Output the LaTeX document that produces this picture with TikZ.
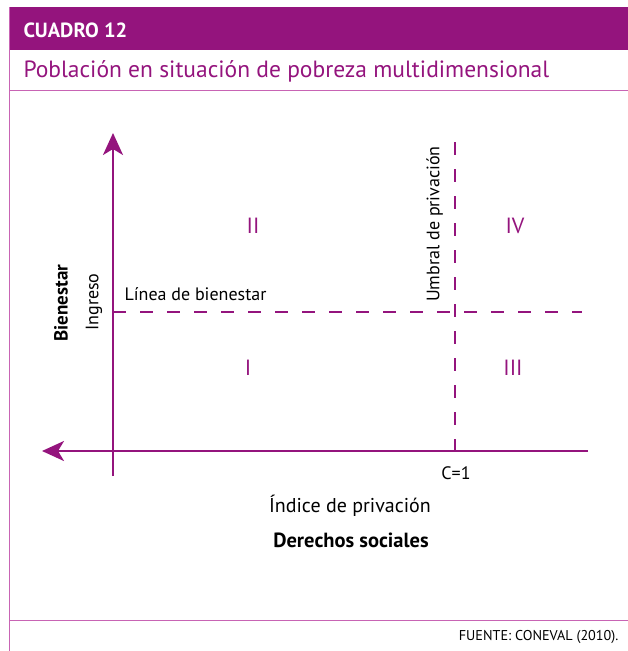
\documentclass[tikz,border=0pt]{standalone}
\usepackage{fontspec}
\setmainfont{PT Sans}
\usetikzlibrary{arrows.meta}
\definecolor{cuadro}{RGB}{148,20,125}
\definecolor{marco}{RGB}{200,100,180}
\begin{document}
\begin{tikzpicture}[x=1pt,y=-1pt,
	eje/.style={draw=cuadro,line width=2.4pt,-{Stealth[length=22pt,width=20pt,inset=6pt]}},
	umbral/.style={draw=cuadro,line width=2.8pt,dash pattern=on 13pt off 14pt},
	cuadrante/.style={text=cuadro,font=\fontsize{22}{24}\selectfont},
	etiqueta/.style={font=\fontsize{18}{20}\selectfont},
	]
	\useasboundingbox (0,0) rectangle (628,651);
	% marco
	\fill[cuadro] (9,7) rectangle (628,50);
	\draw[marco,line width=1pt] (9.5,7) -- (9.5,651);
	\draw[marco,line width=1pt] (9,90) -- (628,90);
	\draw[marco,line width=1pt] (9,620) -- (628,620);
	\node[anchor=west,text=white,font=\bfseries\fontsize{20.5}{22}\selectfont] (titulo) at (20,30) {CUADRO 12};
	\node[anchor=west,text=cuadro,font=\fontsize{23.5}{25}\selectfont] (subtitulo) at (20,71) {Población en situación de pobreza multidimensional};
	\node[anchor=east,font=\fontsize{14.2}{16}\selectfont] (fuente) at (622,637) {FUENTE: CONEVAL (2010).};
	% ejes
	\coordinate (o) at (113,451);
	\coordinate (arriba) at (113,133);
	\coordinate (abajo) at (113,476);
	\coordinate (izq) at (42,451);
	\coordinate (der) at (588,451);
	\draw[eje] (abajo) -- (arriba);
	\draw[eje] (der) -- (izq);
	% umbrales
	\coordinate (lb0) at (113,312);
	\coordinate (lb1) at (582,312);
	\coordinate (up0) at (455,142);
	\coordinate (up1) at (455,451);
	\draw[umbral] (lb0) -- (lb1);
	\draw[umbral] (up0) -- (up1);
	% cuadrantes
	\node[cuadrante] (cII) at (253,226) {II};
	\node[cuadrante] (cIV) at (515,226) {IV};
	\node[cuadrante] (cI) at (248,368) {I};
	\node[cuadrante] (cIII) at (513,368) {III};
	% textos
	\node[etiqueta,anchor=south west] (linea) at (121,304) {Línea de bienestar};
	\node[etiqueta,rotate=90] (ingreso) at (94,302) {Ingreso};
	\node[etiqueta,rotate=90,font=\bfseries\fontsize{19}{21}\selectfont] (bienestar) at (61,303) {Bienestar};
	\node[etiqueta,rotate=90,anchor=north] (umbraltxt) at (423,224) {Umbral de privación};
	\node[etiqueta] (c1) at (456,473) {C=1};
	\node[etiqueta,font=\fontsize{20}{22}\selectfont] (indice) at (350,506) {Índice de privación};
	\node[etiqueta,font=\bfseries\fontsize{20.5}{22}\selectfont] (derechos) at (351,540) {Derechos sociales};
\end{tikzpicture}
\end{document}
